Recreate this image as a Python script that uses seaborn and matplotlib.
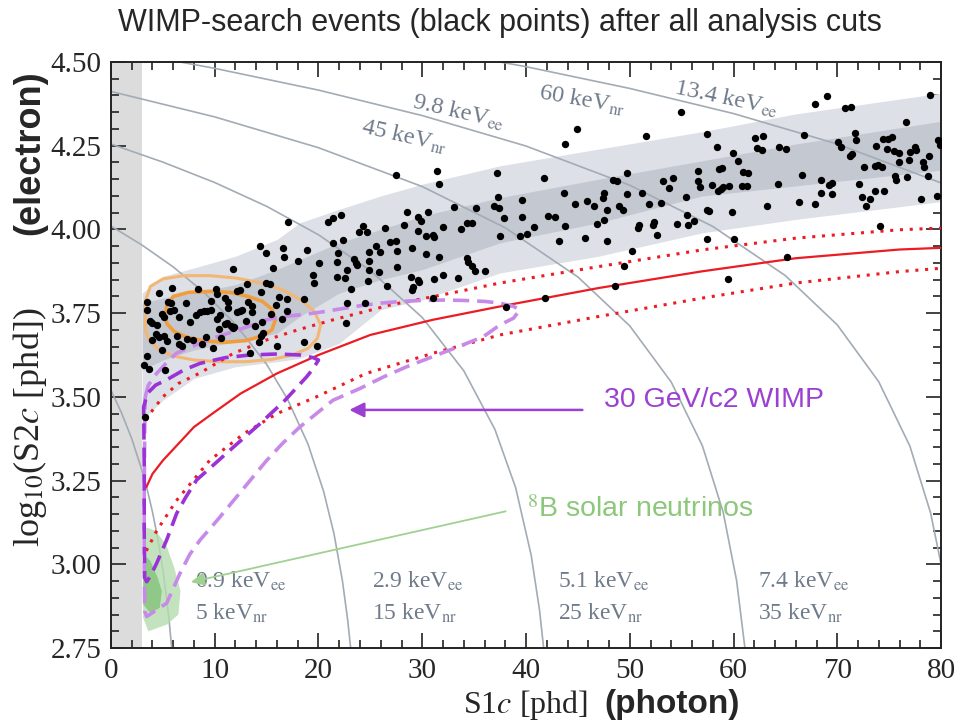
import numpy as np
import pandas as pd
import matplotlib
matplotlib.use("Agg")
import matplotlib.pyplot as plt
import seaborn as sns
from matplotlib.ticker import MultipleLocator, FormatStrFormatter

# ---------------- values ----------------
# ER band (light = outer, dark = inner), log10(S2c) edges vs S1c
band_s1 = [3, 5, 8, 12, 16, 18.2, 22, 26, 30, 37.5, 47, 57, 66, 80]
light_hi = [3.81, 3.86, 3.885, 3.92, 3.97, 4.02, 4.06, 4.10, 4.135, 4.19, 4.24, 4.292, 4.345, 4.407]
dark_hi = [3.78, 3.795, 3.81, 3.835, 3.88, 3.91, 3.96, 4.00, 4.04, 4.095, 4.15, 4.205, 4.255, 4.323]
dark_lo = [3.58, 3.61, 3.64, 3.665, 3.69, 3.74, 3.81, 3.85, 3.88, 3.96, 4.02, 4.10, 4.13, 4.177]
light_lo = [3.43, 3.49, 3.555, 3.59, 3.605, 3.615, 3.66, 3.76, 3.79, 3.87, 3.92, 3.99, 4.03, 4.083]

# NR band median (solid) and 10-90% (dotted)
nr_s1 = [3.4, 4, 5, 6.5, 8, 10, 12.5, 16, 20, 25, 31, 37.5, 47, 57, 66, 76, 80]
nr_med = [3.23, 3.27, 3.31, 3.36, 3.41, 3.455, 3.51, 3.57, 3.625, 3.685, 3.73, 3.77, 3.825, 3.875, 3.914, 3.94, 3.945]
nr_hi_s1 = [3.4, 4, 5, 6.5, 8.5, 11.8, 15, 18, 21.4, 27, 32, 37.5, 47, 57, 66, 76, 80]
nr_hi = [3.43, 3.46, 3.50, 3.54, 3.57, 3.63, 3.67, 3.70, 3.73, 3.775, 3.805, 3.84, 3.889, 3.939, 3.974, 3.999, 4.004]
nr_lo_s1 = [3.4, 4.4, 6.3, 9.5, 12.8, 16, 19.8, 24.6, 31, 37.5, 47, 57, 66, 76, 80]
nr_lo = [3.04, 3.10, 3.19, 3.31, 3.39, 3.45, 3.50, 3.57, 3.63, 3.685, 3.74, 3.795, 3.84, 3.874, 3.884]

# constant-energy contours (keVee / keVnr)
e1_s1 = [0, 1, 2, 3, 3.5, 4, 4.5, 5, 5.3, 5.6, 5.85, 6.0]
e1_s2 = [3.52, 3.453, 3.375, 3.279, 3.222, 3.156, 3.078, 2.983, 2.914, 2.833, 2.75, 2.692]
e2_s1 = [0, 3, 6, 9, 12, 15, 17, 19, 20.5, 21.5, 22.3, 22.8, 23.1, 23.3]
e2_s2 = [4.01, 3.953, 3.888, 3.811, 3.717, 3.597, 3.494, 3.358, 3.217, 3.09, 2.952, 2.837, 2.75, 2.68]
e3_s1 = [0, 5, 10, 15, 20, 25, 30, 34, 37, 39, 40.5, 41.3, 41.7, 42.0]
e3_s2 = [4.255, 4.201, 4.14, 4.069, 3.984, 3.877, 3.737, 3.578, 3.403, 3.229, 3.027, 2.864, 2.75, 2.642]
e4_s1 = [0, 10, 20, 30, 38, 45, 50, 54, 57, 59, 60.3, 61.1, 61.5]
e4_s2 = [4.412, 4.336, 4.244, 4.128, 4.005, 3.858, 3.712, 3.544, 3.354, 3.156, 2.951, 2.75, 2.599]
e5_s1 = [0, 6.65, 10, 20, 30, 40, 50, 58, 65, 70, 74, 77, 79, 80]
e5_s2 = [4.537, 4.5, 4.481, 4.416, 4.34, 4.249, 4.132, 4.009, 3.862, 3.715, 3.545, 3.353, 3.153, 3.001]
e6_s1 = [37.5, 40, 50, 60, 70, 80]
e6_s2 = [4.5, 4.486, 4.421, 4.346, 4.255, 4.139]

# orange calibration contours
orange_out_s1 = [3.3, 3.35, 3.8, 5, 7, 9.5, 12, 14.5, 16.5, 18.3, 19.6, 20.2, 19.9, 19, 17.5, 15.5, 13, 10.5, 8, 6, 4.6, 3.7, 3.3, 3.3]
orange_out_s2 = [3.72, 3.79, 3.83, 3.852, 3.862, 3.862, 3.855, 3.84, 3.82, 3.79, 3.755, 3.715, 3.675, 3.645, 3.625, 3.612, 3.605, 3.605, 3.61, 3.622, 3.642, 3.668, 3.70, 3.72]
orange_in_s1 = [5.2, 5.4, 6.0, 7.5, 9.5, 11.5, 13.2, 14.6, 15.5, 15.85, 15.5, 14.6, 13, 11, 9, 7.3, 6.1, 5.4, 5.2]
orange_in_s2 = [3.74, 3.775, 3.80, 3.812, 3.815, 3.812, 3.80, 3.785, 3.762, 3.73, 3.70, 3.682, 3.668, 3.663, 3.667, 3.678, 3.695, 3.718, 3.74]

# 30 GeV WIMP contours
wimp_in_s1 = [3.2, 3.15, 3.5, 4.3, 5.37, 7, 8.58, 11, 13.4, 16, 18.2, 19.5, 20.0, 19.5, 18.86, 16.78, 14.37,
              11.8, 10, 8.26, 7.2, 6.33, 5.37, 4.4, 3.8, 3.44, 3.25, 3.2, 3.2]
wimp_in_s2 = [3.30, 3.47, 3.51, 3.535, 3.551, 3.58, 3.60, 3.617, 3.625, 3.628, 3.625, 3.617, 3.61, 3.585, 3.56, 3.49, 3.42,
              3.35, 3.30, 3.252, 3.20, 3.152, 3.073, 3.003, 2.965, 2.948, 2.96, 3.1, 3.30]
wimp_out_s1 = [3.3, 3.6, 4.4, 5.3, 6.3, 7.5, 8.6, 10, 11.8, 13.5, 15, 16.6, 18.2, 20, 22, 24, 26, 28, 30, 32, 34, 36,
               37.5, 38.8, 39.4, 38.8, 37.5, 35.9, 33.5, 31, 28.5, 26.3, 24, 21.4, 19.8, 18.2, 16.5, 15, 13.4, 11.8,
               10.2, 8.6, 7.6, 6.65, 5.37, 3.44, 3.25, 3.2, 3.2, 3.25, 3.3]
wimp_out_s2 = [3.50, 3.535, 3.57, 3.60, 3.63, 3.647, 3.66, 3.677, 3.695, 3.713, 3.73, 3.74, 3.745, 3.752, 3.762, 3.772,
               3.78, 3.785, 3.788, 3.789, 3.788, 3.785, 3.78, 3.77, 3.76, 3.735, 3.715, 3.68, 3.65, 3.62, 3.59, 3.56,
               3.525, 3.49, 3.45, 3.41, 3.36, 3.31, 3.25, 3.19, 3.13, 3.073, 3.03, 2.973, 2.884, 2.844, 2.86, 3.0,
               3.2, 3.40, 3.50]

# 8B solar neutrino region
b8_out_s1 = [3.1, 3.4, 4.3, 5.3, 6.1, 6.7, 6.5, 5.4, 3.6, 3.1]
b8_out_s2 = [3.05, 3.11, 3.10, 3.06, 2.99, 2.92, 2.85, 2.82, 2.80, 2.84]
b8_in_s1 = [3.1, 3.8, 4.5, 4.9, 4.7, 3.8, 3.1]
b8_in_s2 = [3.03, 3.01, 2.96, 2.92, 2.87, 2.855, 2.88]

# WIMP-search events
events_cluster = [
    (11.8, 3.881), (4.66, 3.809), (5.85, 3.826), (8.42, 3.821), (10.12, 3.821), (10.19, 3.806), (12.12, 3.817),
    (12.44, 3.819), (13.08, 3.836), (14.46, 3.812), (14.98, 3.841), (15.36, 3.838), (3.44, 3.782), (3.50, 3.760),
    (5.50, 3.783), (5.82, 3.779), (7.20, 3.779), (9.67, 3.787), (10.99, 3.794), (11.25, 3.783), (11.31, 3.765),
    (13.24, 3.784), (13.56, 3.771), (16.17, 3.797), (16.94, 3.791), (18.64, 3.791), (3.76, 3.728), (3.92, 3.720),
    (4.92, 3.748), (5.11, 3.737), (5.69, 3.755), (6.08, 3.760), (6.59, 3.738), (7.62, 3.723), (8.16, 3.745),
    (8.58, 3.752), (8.97, 3.757), (9.22, 3.755), (9.61, 3.760), (10.25, 3.733), (10.51, 3.745), (10.99, 3.717),
    (11.22, 3.722), (11.54, 3.712), (11.86, 3.708), (12.18, 3.752), (12.44, 3.755), (12.6, 3.760), (12.99, 3.727),
    (13.63, 3.752), (13.89, 3.712), (14.53, 3.725), (15.40, 3.748), (15.91, 3.773), (16.46, 3.733), (16.94, 3.755),
    (4.47, 3.715), (4.34, 3.688), (4.60, 3.680), (5.14, 3.683), (5.37, 3.668), (6.33, 3.683), (6.59, 3.658),
    (6.81, 3.652), (7.36, 3.672), (7.94, 3.670), (8.74, 3.658), (9.16, 3.678), (9.87, 3.645), (10.41, 3.702),
    (10.61, 3.675), (11.73, 3.705), (13.40, 3.632), (14.30, 3.665), (14.50, 3.682), (14.69, 3.692), (16.04, 3.652),
    (18.64, 3.663), (19.83, 3.652), (3.21, 3.595), (3.63, 3.582), (3.50, 3.622), (5.21, 3.580), (3.99, 3.670),
    (4.89, 3.640), (3.28, 3.441),
]
events_mid = [
    (14.37, 3.951), (14.91, 3.929), (16.62, 3.944), (16.71, 3.919), (15.65, 3.884), (18.06, 3.907), (18.93, 3.939),
    (19.51, 3.864), (20.09, 3.901), (19.61, 3.839), (21.76, 3.904), (21.92, 3.931), (21.44, 3.959), (21.82, 3.859),
    (22.56, 3.854), (17.04, 4.023), (20.96, 4.021), (21.44, 4.034), (22.14, 4.044), (27.44, 4.163), (31.40, 4.173),
    (31.62, 4.135), (37.18, 4.168), (37.34, 4.096), (36.96, 4.071), (37.44, 4.065), (37.89, 4.035), (37.5, 3.981),
    (33.07, 4.068), (35.19, 4.063), (28.57, 4.051), (29.63, 4.038), (29.85, 4.026), (30.53, 4.053), (28.25, 4.012),
    (26.42, 4.003), (24.26, 4.011), (24.65, 3.991), (23.94, 3.991), (22.33, 3.969), (23.43, 3.912), (23.62, 3.901),
    (23.75, 3.894), (24.84, 3.933), (24.84, 3.907), (24.87, 3.879), (25.52, 3.949), (25.93, 3.934), (26.9, 3.961),
    (27.48, 3.966), (27.54, 3.937), (27.54, 3.889), (25.84, 3.872), (24.81, 3.846), (26.58, 3.832), (28.99, 3.944),
    (29.57, 3.996), (30.37, 3.979), (31.01, 3.984), (31.17, 3.977), (32.04, 4.008), (33.74, 4.000), (34.29, 4.018),
    (34.77, 4.018), (30.37, 3.926), (31.65, 3.919), (28.92, 3.859), (29.63, 3.849), (29.73, 3.842), (31.17, 3.851),
    (31.98, 3.864), (33.49, 3.856), (34.29, 3.914), (34.45, 3.903), (34.84, 3.891), (35.09, 3.876), (36.06, 3.876),
    (29.15, 3.829), (28.99, 3.819), (23.11, 3.822), (22.72, 3.879), (31.08, 3.794), (22.72, 3.779), (22.66, 3.722),
    (24.49, 3.779), (38.09, 3.769),
]
events_high = [
    (44.95, 4.299), (43.79, 4.254), (54.91, 4.350), (51.57, 4.280), (57.42, 4.285), (58.45, 4.247), (67.83, 4.374),
    (68.99, 4.399), (70.75, 4.364), (71.3, 4.367), (78.95, 4.400), (76.64, 4.322), (66.83, 4.282), (71.72, 4.289),
    (71.78, 4.267), (70.11, 4.260), (70.34, 4.247), (71.4, 4.225), (71.24, 4.220), (62.08, 4.274), (62.88, 4.279),
    (62.24, 4.242), (62.78, 4.236), (59.99, 4.228), (64.42, 4.247), (65.07, 4.240), (73.71, 4.249), (74.45, 4.269),
    (74.87, 4.269), (75.32, 4.277), (74.84, 4.240), (75.51, 4.233), (75.99, 4.228), (77.02, 4.230), (77.51, 4.245),
    (77.6, 4.236), (79.69, 4.267), (79.92, 4.252), (78.89, 4.218), (76.96, 4.206), (75.96, 4.201), (78.24, 4.200),
    (78.37, 4.186), (78.79, 4.161), (72.62, 4.185), (73.65, 4.188), (73.97, 4.193), (74.29, 4.186), (75.58, 4.160),
    (75.64, 4.148), (76.7, 4.158), (72.14, 4.136), (73.65, 4.116), (74.55, 4.114), (72.36, 4.096), (73.17, 4.090),
    (72.78, 4.071), (78.05, 4.090), (79.59, 4.100), (74.13, 4.009), (66.58, 4.163), (68.41, 4.148), (69.24, 4.133),
    (69.47, 4.140), (68.44, 4.110), (69.47, 4.106), (67.86, 4.076), (66.32, 4.081), (64.26, 4.135), (63.2, 4.071),
    (60.41, 4.203), (60.89, 4.170), (61.43, 4.168), (60.86, 4.131), (61.34, 4.131), (58.64, 4.181), (58.86, 4.184),
    (58.77, 4.120), (58.54, 4.116), (58.96, 4.128), (57.96, 4.133), (59.57, 4.131), (56.55, 4.173), (56.55, 4.146),
    (56.77, 4.126), (54.2, 4.153), (53.24, 4.145), (53.82, 4.123), (55.39, 4.096), (57.42, 4.058), (57.67, 4.056),
    (59.83, 4.051), (55.55, 4.043), (56.23, 4.026), (54.52, 4.017), (55.65, 4.012), (57.42, 3.972), (60.08, 3.972),
    (65.13, 3.919), (59.51, 3.852), (53.01, 4.078), (51.86, 4.076), (51.15, 4.110), (49.7, 4.168), (49.7, 4.105),
    (48.42, 4.148), (48.74, 4.146), (47.55, 4.108), (47.45, 4.093), (47.77, 4.058), (49.0, 4.071), (49.38, 4.058),
    (46.55, 4.070), (45.85, 4.086), (44.72, 4.076), (43.66, 4.108), (43.76, 4.011), (42.15, 4.041), (42.79, 4.038),
    (46.81, 4.017), (47.55, 4.029), (50.83, 4.004), (50.92, 4.012), (52.34, 4.022), (52.27, 4.014), (52.6, 3.983),
    (47.77, 3.964), (45.69, 3.974), (43.21, 3.964), (40.06, 3.986), (39.42, 3.981), (39.58, 4.088), (39.58, 4.036),
    (40.8, 4.007), (41.73, 4.155), (50.25, 3.937), (49.45, 3.891), (48.61, 3.830), (41.83, 3.795),
]

energy_labels = [
    ("0.9 keV$_{\\rm ee}$", 8.1, 2.95), ("5 keV$_{\\rm nr}$", 8.1, 2.852),
    ("2.9 keV$_{\\rm ee}$", 25.2, 2.95), ("15 keV$_{\\rm nr}$", 25.2, 2.852),
    ("5.1 keV$_{\\rm ee}$", 43.1, 2.95), ("25 keV$_{\\rm nr}$", 43.1, 2.852),
    ("7.4 keV$_{\\rm ee}$", 62.4, 2.95), ("35 keV$_{\\rm nr}$", 62.4, 2.852),
]
top_labels = [
    ("9.8 keV$_{\\rm ee}$", 33.5, 4.35, -13), ("45 keV$_{\\rm nr}$", 28.3, 4.279, -13),
    ("60 keV$_{\\rm nr}$", 45.4, 4.387, -10), ("13.4 keV$_{\\rm ee}$", 59.3, 4.392, -12),
]

# ---------------- drawing ----------------
sns.set_style("ticks")
plt.rcParams["font.family"] = ["Liberation Serif", "DejaVu Serif"]
plt.rcParams["mathtext.fontset"] = "stix"

fig = plt.figure(figsize=(9.61, 7.25), dpi=100)
ax = fig.add_axes([0.1155, 0.1062, 0.8637, 0.8083])

c_light = "#dde0e6"
c_dark = "#c3c8d1"
c_grid = "#a3abb5"
c_red = "#ec1c24"
c_pur_d = "#9a32d6"
c_pur_l = "#c88ae8"

ax.axvspan(0, 3.0, color="#dcdcdc", zorder=0.5, lw=0)
ax.fill_between(band_s1, light_lo, light_hi, color=c_light, lw=0, zorder=1)
ax.fill_between(band_s1, dark_lo, dark_hi, color=c_dark, lw=0, zorder=1.1)

for xs, ys in [(e1_s1, e1_s2), (e2_s1, e2_s2), (e3_s1, e3_s2), (e4_s1, e4_s2), (e5_s1, e5_s2), (e6_s1, e6_s2)]:
    ax.plot(xs, ys, color=c_grid, lw=1.2, zorder=2)

ax.fill(b8_out_s1, b8_out_s2, color="#b5dcae", alpha=0.8, lw=0, zorder=3)
ax.fill(b8_in_s1, b8_in_s2, color="#82c27a", alpha=0.8, lw=0, zorder=3.1)

ax.plot(orange_out_s1, orange_out_s2, color="#f3b775", lw=2.2, zorder=4)
ax.plot(orange_in_s1, orange_in_s2, color="#ef9d3e", lw=2.6, zorder=4)

ax.plot(nr_s1, nr_med, color=c_red, lw=1.6, zorder=4)
ax.plot(nr_hi_s1, nr_hi, color=c_red, lw=2.2, ls=(0, (1, 2.2)), zorder=4)
ax.plot(nr_lo_s1, nr_lo, color=c_red, lw=2.2, ls=(0, (1, 2.2)), zorder=4)

ax.plot(wimp_out_s1, wimp_out_s2, color=c_pur_l, lw=2.6, ls=(0, (4.5, 2.2)), zorder=5)
ax.plot(wimp_in_s1, wimp_in_s2, color=c_pur_d, lw=2.6, ls=(0, (4.5, 2.2)), zorder=5)

ev = pd.DataFrame(events_cluster + events_mid + events_high, columns=["s1", "s2"])
sns.scatterplot(data=ev, x="s1", y="s2", color="black", s=28, linewidth=0, ax=ax, zorder=6)

for txt, x, y in energy_labels:
    ax.text(x, y, txt, color="#6f7b8a", fontsize=17, ha="left", va="center", zorder=7)
for txt, x, y, rot in top_labels:
    ax.text(x, y, txt, color="#6f7b8a", fontsize=17.5, ha="center", va="center", rotation=rot,
            rotation_mode="anchor", zorder=7)

ax.annotate("", xy=(22.7, 3.461), xytext=(45.7, 3.461),
            arrowprops=dict(arrowstyle="-|>", color="#9b40d2", lw=1.8, mutation_scale=22), zorder=7)
ax.text(47.5, 3.49, "30 GeV/c2 WIMP", color="#9b40d2", fontsize=20.5, family="Liberation Sans",
        ha="left", va="center", zorder=7)
ax.annotate("", xy=(7.45, 2.945), xytext=(38.3, 3.16),
            arrowprops=dict(arrowstyle="-|>", color="#9fd191", lw=1.3, mutation_scale=20), zorder=7)
ax.text(40.05, 3.162, "$^{8}$B solar neutrinos", color="#8cc87a", fontsize=20.5, family="Liberation Sans",
        ha="left", va="center", zorder=7)

ax.set_xlim(0, 80)
ax.set_ylim(2.75, 4.5)
ax.xaxis.set_major_locator(MultipleLocator(10))
ax.xaxis.set_minor_locator(MultipleLocator(2))
ax.yaxis.set_major_locator(MultipleLocator(0.25))
ax.yaxis.set_minor_locator(MultipleLocator(0.05))
ax.yaxis.set_major_formatter(FormatStrFormatter("%.2f"))
ax.tick_params(which="both", direction="in", top=True, right=True, width=1.2, color="#222222")
ax.tick_params(which="major", length=11, labelsize=21, pad=7)
ax.tick_params(which="minor", length=6)
for sp in ax.spines.values():
    sp.set_linewidth(1.4)
    sp.set_color("#222222")
ax.set_xlabel("")
ax.set_ylabel("")

fig.text(0.482, 0.028, "S1$c$ [phd]", fontsize=23, ha="left", va="center")
fig.text(0.6285, 0.028, "(photon)", fontsize=24, fontweight="bold", family="Liberation Sans",
         ha="left", va="center")
fig.text(0.031, 0.41, "log$_{10}$(S2$c$ [phd])", fontsize=26, rotation=90, ha="center", va="center")
fig.text(0.031, 0.79, "(electron)", fontsize=26, fontweight="bold", family="Liberation Sans",
         rotation=90, ha="center", va="center")
fig.text(0.52, 0.968, "WIMP-search events (black points) after all analysis cuts", fontsize=22,
         family="Liberation Sans", ha="center", va="center")

fig.savefig("out.png", dpi=100)
